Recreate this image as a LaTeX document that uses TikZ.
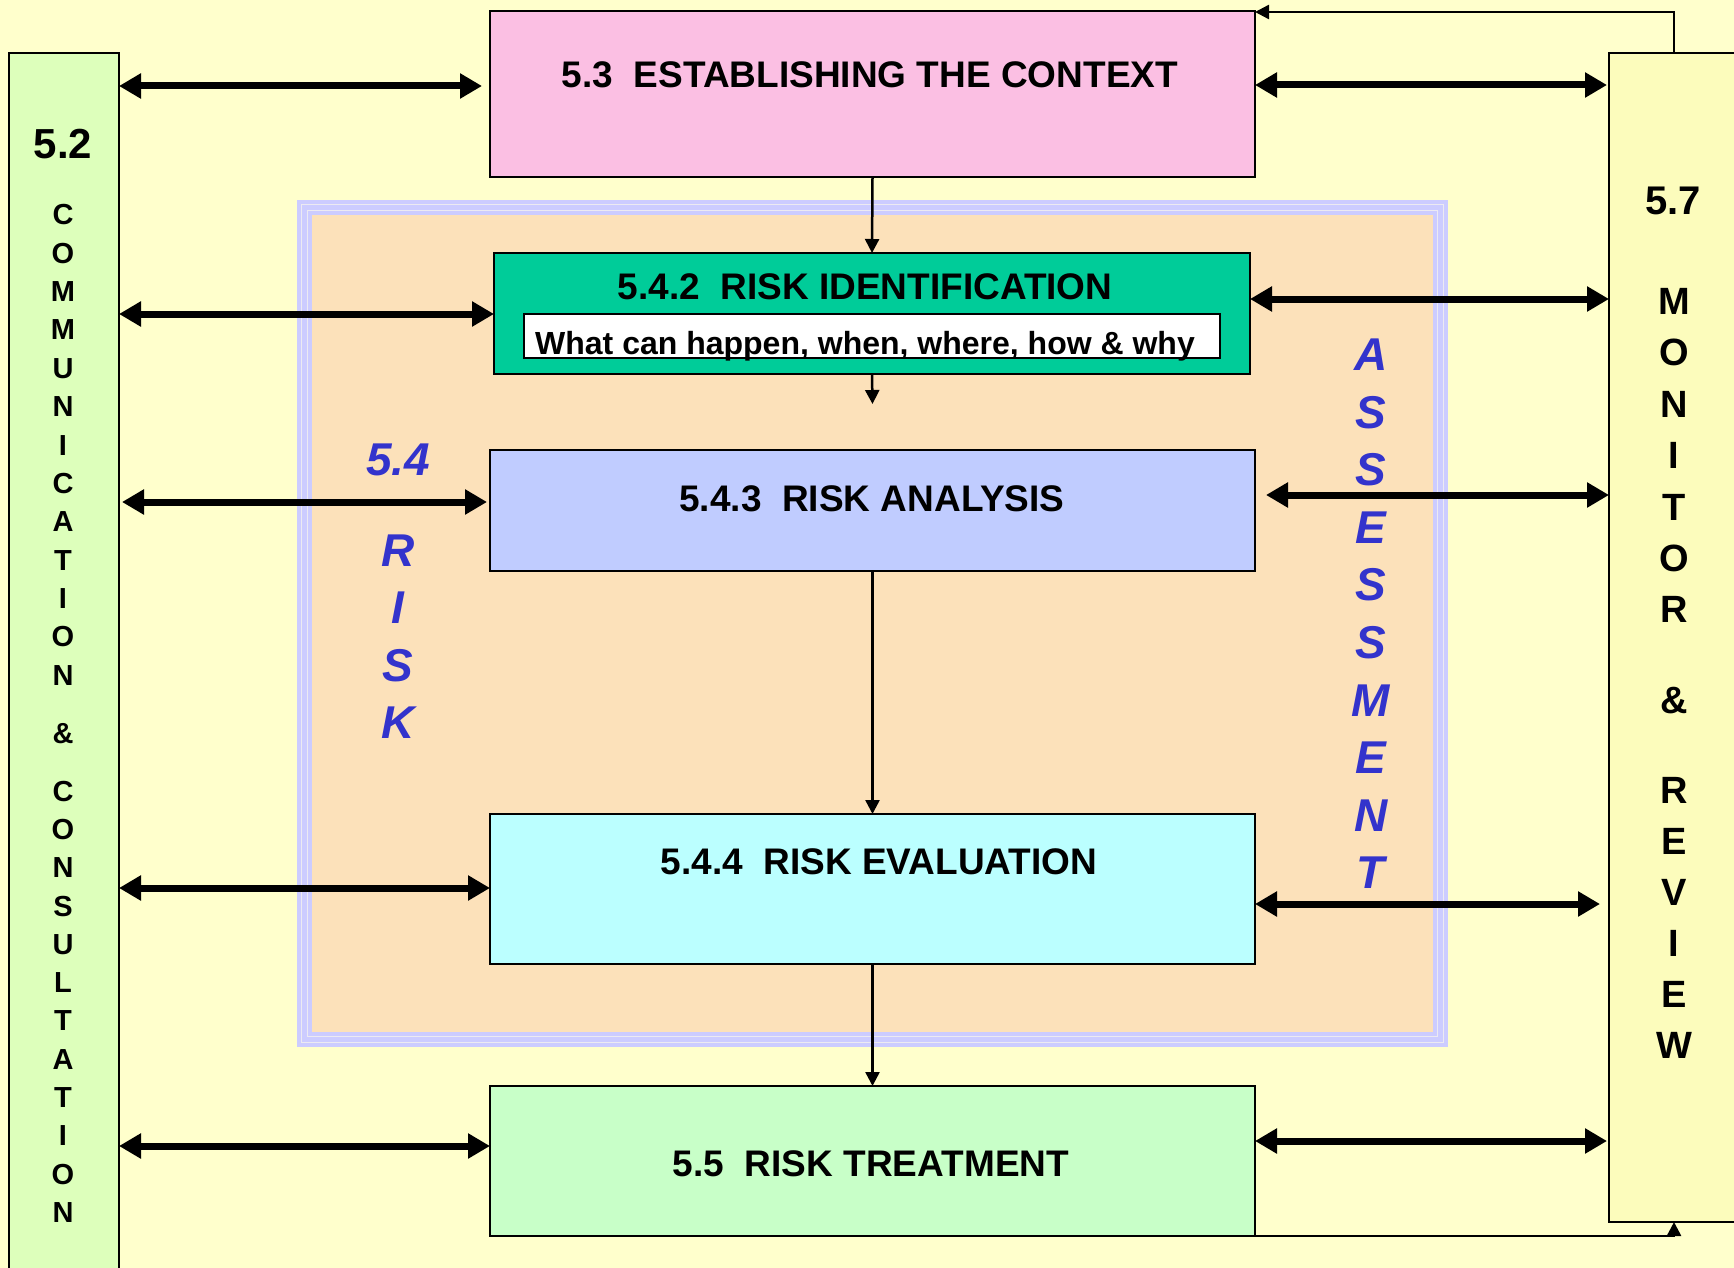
\documentclass[tikz,border=0pt]{standalone}
\usepackage{fontspec}
\setmainfont{Liberation Sans}
\usetikzlibrary{arrows.meta}
\definecolor{bg}{HTML}{FFFFCC}
\definecolor{commc}{HTML}{DDFFBB}
\definecolor{ctxc}{HTML}{FBBFE3}
\definecolor{monc}{HTML}{FCFCBC}
\definecolor{peach}{HTML}{FCE1BA}
\definecolor{lav}{HTML}{CCCCFF}
\definecolor{pale}{HTML}{ECEAF2}
\definecolor{identc}{HTML}{00CC99}
\definecolor{analc}{HTML}{C0CCFF}
\definecolor{evalc}{HTML}{BBFFFF}
\definecolor{treatc}{HTML}{C8FFC8}
\definecolor{bluet}{HTML}{3333CC}
\begin{document}
\begin{tikzpicture}[x=1pt,y=-1pt,
  box/.style={rectangle,draw=black,line width=2.5pt,inner sep=0pt,outer sep=0pt},
  mainlbl/.style={inner sep=0pt,text height=26.5pt,text depth=0pt,font=\fontsize{37}{40}\selectfont\bfseries},
  sublbl/.style={inner sep=0pt,text height=22.9pt,text depth=0pt,font=\fontsize{32}{36}\selectfont\bfseries},
  commlet/.style={inner sep=0pt,text height=20.8pt,text depth=0pt,font=\fontsize{29}{32}\selectfont\bfseries},
  monlet/.style={inner sep=0pt,text height=27.2pt,text depth=0pt,font=\fontsize{38}{42}\selectfont\bfseries},
  numlbl/.style={inner sep=0pt,text height=30pt,text depth=0pt,font=\fontsize{42}{46}\selectfont\bfseries},
  bluelbl/.style={inner sep=0pt,text height=33pt,text depth=0pt,text=bluet,font=\fontsize{46}{50}\selectfont\bfseries\itshape},
  dbl/.style={line width=7pt,{Triangle[length=22pt,width=24pt]}-{Triangle[length=22pt,width=24pt]}},
  flow/.style={line width=2.5pt,-{Triangle[length=14pt,width=14pt]}}
]
\useasboundingbox (0,0) rectangle (1734,1268);
\clip (0,0) rectangle (1734,1268);
\fill[bg] (0,0) rectangle (1734,1268);

% risk assessment frame with striped border
\fill[lav] (297,200) rectangle (1448,1047);
\draw[pale,line width=1.5pt] (301.5,204.5) rectangle (1443.5,1042.5);
\draw[pale,line width=1.5pt] (307.5,210.5) rectangle (1437.5,1036.5);
\fill[peach] (312,215) rectangle (1433,1032);

% side boxes
\node[box,fill=commc,anchor=north west,minimum width=110pt,minimum height=1260pt] (comm) at (9,53) {};
\node[box,fill=monc,anchor=north west,minimum width=140pt,minimum height=1169pt] (mon) at (1609,53) {};

% process boxes
\node[box,fill=ctxc,minimum width=765pt,minimum height=166pt] (ctx) at (872.5,94) {};
\node[box,fill=identc,minimum width=756pt,minimum height=121pt] (ident) at (872,313.5) {};
\node[box,fill=white,minimum width=696pt,minimum height=44pt] (what) at (872,336) {};
\node[box,fill=analc,minimum width=765pt,minimum height=121pt] (anal) at (872.5,510.5) {};
\node[box,fill=evalc,minimum width=765pt,minimum height=150pt] (eval) at (872.5,889) {};
\node[box,fill=treatc,minimum width=765pt,minimum height=150pt] (treat) at (872.5,1161) {};

% box labels
\node[mainlbl] (ctxt) at (870,74) {5.3\ \ ESTABLISHING THE CONTEXT};
\node[mainlbl] (identt) at (865,286) {5.4.2\ \ RISK IDENTIFICATION};
\node[sublbl] (whatt) at (865,343) {What can happen, when, where, how \& why};
\node[mainlbl] (analt) at (872,498) {5.4.3\ \ RISK ANALYSIS};
\node[mainlbl] (evalt) at (879,861) {5.4.4\ \ RISK EVALUATION};
\node[mainlbl] (treatt) at (871,1163) {5.5\ \ RISK TREATMENT};

% communication & consultation column
\node[numlbl] (commnum) at (63,144) {5.2};
\foreach \ch [count=\i from 0] in {C,O,M,M,U,N,I,C,A,T,I,O,N}
  \node[commlet] (cA\i) at (63,214.5+38.35*\i) {\ch};
\node[commlet] (camp) at (63,733) {\&};
\foreach \ch [count=\i from 0] in {C,O,N,S,U,L,T,A,T,I,O,N}
  \node[commlet] (cB\i) at (63,790.7+38.3*\i) {\ch};

% monitor & review column
\node[numlbl,font=\fontsize{40}{44}\selectfont\bfseries,text height=28.6pt] (monnum) at (1673,200) {5.7};
\foreach \ch [count=\i from 0] in {M,O,N,I,T,O,R}
  \node[monlet] (mA\i) at (1674,300.8+51.4*\i) {\ch};
\node[monlet] (mamp) at (1674,700) {\&};
\foreach \ch [count=\i from 0] in {R,E,V,I,E,W}
  \node[monlet] (mB\i) at (1674,789.6+51.1*\i) {\ch};

% risk assessment lettering
\node[bluelbl] (rnum) at (398,459) {5.4};
\foreach \ch [count=\i from 0] in {R,I,S,K}
  \node[bluelbl] (rk\i) at (398,550+57.4*\i) {\ch};
\foreach \ch [count=\i from 0] in {A,S,S,E,S,S,M,E,N,T}
  \node[bluelbl] (as\i) at (1371,354+57.6*\i) {\ch};

% row heights of the exchange arrows
\coordinate (l1) at (0,86);
\coordinate (l2) at (0,314);
\coordinate (l3) at (0,502);
\coordinate (l4) at (0,888);
\coordinate (l5) at (0,1146);
\coordinate (r1) at (0,85);
\coordinate (r2) at (0,299);
\coordinate (r3) at (0,495);
\coordinate (r4) at (0,904);
\coordinate (r5) at (0,1141);

% communication arrows
\draw[dbl,shorten >=8pt] (comm.east |- l1) -- (ctx.west |- l1);
\draw[dbl] (comm.east |- l2) -- (ident.west |- l2);
\draw[dbl,shorten <=3pt,shorten >=3pt] (comm.east |- l3) -- (anal.west |- l3);
\draw[dbl] (comm.east |- l4) -- (eval.west |- l4);
\draw[dbl] (comm.east |- l5) -- (treat.west |- l5);

% monitoring arrows
\draw[dbl,shorten >=2pt] (ctx.east |- r1) -- (mon.west |- r1);
\draw[dbl] (ident.east |- r2) -- (mon.west |- r2);
\draw[dbl,shorten <=11pt] (anal.east |- r3) -- (mon.west |- r3);
\draw[dbl,shorten >=9pt] (eval.east |- r4) -- (mon.west |- r4);
\draw[dbl,shorten >=2pt] (treat.east |- r5) -- (mon.west |- r5);

% process flow
\coordinate (identout) at (872.5,404);
\draw[flow] (ctx.south) -- (ident.north);
\draw[flow] (ident.south) -- (identout);
\draw[flow] (anal.south) -- (eval.north);
\draw[flow] (eval.south) -- (treat.north);

% feedback loops through monitor & review
\coordinate (fbx) at (1674,0);
\coordinate (fbtop) at (0,12);
\draw[flow] (mon.north -| fbx) -- (fbx |- fbtop) -- (ctx.east |- fbtop);
\draw[flow] (treat.south east) -- (fbx |- treat.south east) -- (mon.south -| fbx);
\end{tikzpicture}
\end{document}
